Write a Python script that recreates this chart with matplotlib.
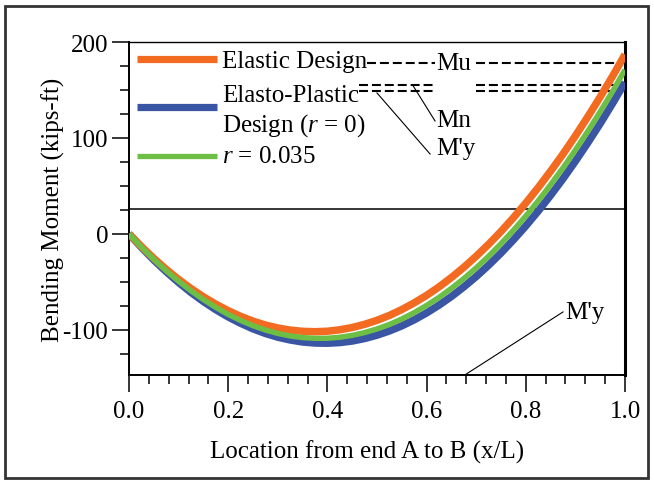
import matplotlib
matplotlib.use('Agg')
import matplotlib.pyplot as plt
from matplotlib.patches import Rectangle
from matplotlib.ticker import MultipleLocator, FormatStrFormatter

# values
x = [0.0, 0.025, 0.05, 0.075, 0.10, 0.125, 0.15, 0.175, 0.20, 0.225, 0.25,
     0.275, 0.30, 0.325, 0.35, 0.375, 0.40, 0.425, 0.45, 0.475, 0.50,
     0.525, 0.55, 0.575, 0.60, 0.625, 0.65, 0.675, 0.70, 0.725, 0.75,
     0.775, 0.80, 0.825, 0.85, 0.875, 0.90, 0.925, 0.95, 0.975, 1.0]
elastic = [0, -13.2, -25.5, -36.9, -47.4, -56.9, -65.5, -73.2, -80.0, -85.9, -90.9,
           -94.9, -98.0, -100.2, -101.5, -101.9, -101.4, -99.9, -97.5, -94.2, -90.0,
           -84.9, -78.8, -71.8, -64.0, -55.2, -45.4, -34.8, -23.2, -10.8, 2.6,
           16.9, 32.2, 48.3, 65.4, 83.3, 102.2, 122.1, 142.8, 164.4, 187]
r0035 = [0, -13.7, -26.5, -38.4, -49.3, -59.3, -68.4, -76.6, -83.9, -90.2, -95.6,
         -100.1, -103.7, -106.3, -108.0, -108.8, -108.7, -107.7, -105.7, -102.8, -99.0,
         -94.3, -88.6, -82.0, -74.5, -66.1, -56.7, -46.5, -35.3, -23.2, -10.1,
         3.8, 18.7, 34.5, 51.3, 68.9, 87.5, 107.0, 127.4, 148.7, 171]
plastic = [0, -14.0, -27.2, -39.3, -50.6, -61.0, -70.4, -78.9, -86.5, -93.1, -98.9,
           -103.7, -107.6, -110.5, -112.6, -113.7, -113.9, -113.2, -111.6, -109.0, -105.5,
           -101.1, -95.8, -89.5, -82.3, -74.2, -65.2, -55.2, -44.4, -32.6, -19.9,
           -6.2, 8.3, 23.8, 40.2, 57.5, 75.8, 95.0, 115.0, 136.1, 158]

mu = 178
mn = 155.5
my_top = 148.6
my_low = 26

orange = '#f26b21'
blue = '#3a55a4'
green = '#6cbe45'

plt.rcParams['font.family'] = ['Liberation Serif', 'DejaVu Serif']
plt.rcParams['mathtext.fontset'] = 'custom'
plt.rcParams['mathtext.rm'] = 'Liberation Serif'
plt.rcParams['mathtext.it'] = 'Liberation Serif:italic'
plt.rcParams['axes.unicode_minus'] = False
fs = 18

fig = plt.figure(figsize=(6.54, 4.81), dpi=100)
W, H = 654, 481
ax = fig.add_axes([129 / W, 1 - 376 / H, 496 / W, 333 / H])

fig.patches.append(Rectangle((5 / W, 1 - 479 / H), 643 / W, 472 / H,
                             transform=fig.transFigure, fill=False,
                             edgecolor='#333333', linewidth=2))

line = dict(solid_capstyle='butt', solid_joinstyle='round')
ax.plot(x, plastic, color=blue, lw=5.4, zorder=3, **line)
ax.plot(x, elastic, color=orange, lw=5.4, zorder=4, **line)
ax.plot(x, r0035, color=green, lw=3.9, zorder=5, **line)

ax.axhline(my_low, color='black', lw=1.1, zorder=2)

dash = dict(color='black', lw=1.5, dashes=(4.3, 1.9))
ax.plot([0.48, 0.617], [mu, mu], **dash)
ax.plot([0.70, 1.0], [mu, mu], **dash)
for yy in (mn, my_top):
    ax.plot([0.464, 0.617], [yy, yy], **dash)
    ax.plot([0.70, 0.985], [yy, yy], **dash)

ax.text(0.619, mu, 'Mu', fontsize=fs, va='center', ha='left')
ax.plot([0.573, 0.617], [154.2, 117.7], color='black', lw=0.8)
ax.text(0.619, 119, 'Mn', fontsize=fs, va='center', ha='left')
ax.plot([0.50, 0.607], [146.9, 83.3], color='black', lw=0.8)
ax.text(0.619, 90, "M'y", fontsize=fs, va='center', ha='left')
ax.plot([0.677, 0.875], [-147, -81.3], color='black', lw=0.8, clip_on=False)
ax.text(0.879, -81, "M'y", fontsize=fs, va='center', ha='left')

# legend drawn by hand
ax.plot([0.016, 0.177], [182.3, 182.3], color=orange, lw=5.2, solid_capstyle='butt')
ax.plot([0.016, 0.177], [132.3, 132.3], color=blue, lw=5.2, solid_capstyle='butt')
ax.plot([0.016, 0.177], [81.2, 81.2], color=green, lw=3.8, solid_capstyle='butt')
ax.text(0.187, 180.2, 'Elastic Design', fontsize=fs, va='center', ha='left')
ax.text(0.187, 144.5, 'Elasto-Plastic', fontsize=fs, va='center', ha='left')
ax.text(0.187, 113.5, 'Design ($r$ = 0)', fontsize=fs, va='center', ha='left')
ax.text(0.187, 81.2, '$r$ = 0.035', fontsize=fs, va='center', ha='left')

ax.set_xlim(0, 1)
ax.set_ylim(-147, 200)
ax.xaxis.set_major_locator(MultipleLocator(0.2))
ax.xaxis.set_minor_locator(MultipleLocator(0.04))
ax.yaxis.set_major_locator(MultipleLocator(100))
ax.yaxis.set_minor_locator(MultipleLocator(25))
ax.xaxis.set_major_formatter(FormatStrFormatter('%.1f'))
ax.tick_params(which='major', length=12, width=1.1, direction='out', labelsize=fs, pad=3)
ax.tick_params(axis='x', which='major', pad=6)
ax.tick_params(which='minor', length=6.5, width=1.1, direction='out')

ax.spines['left'].set_linewidth(1.4)
ax.spines['bottom'].set_linewidth(1.4)
ax.spines['top'].set_linewidth(1.0)
ax.spines['right'].set_linewidth(2.2)

ax.set_xlabel('Location from end A to B (x/L)', fontsize=fs)
ax.xaxis.set_label_coords(0.48, -0.193)
ax.set_ylabel('Bending Moment (kips-ft)', fontsize=fs, labelpad=-2)

fig.savefig('out.png', dpi=100)
